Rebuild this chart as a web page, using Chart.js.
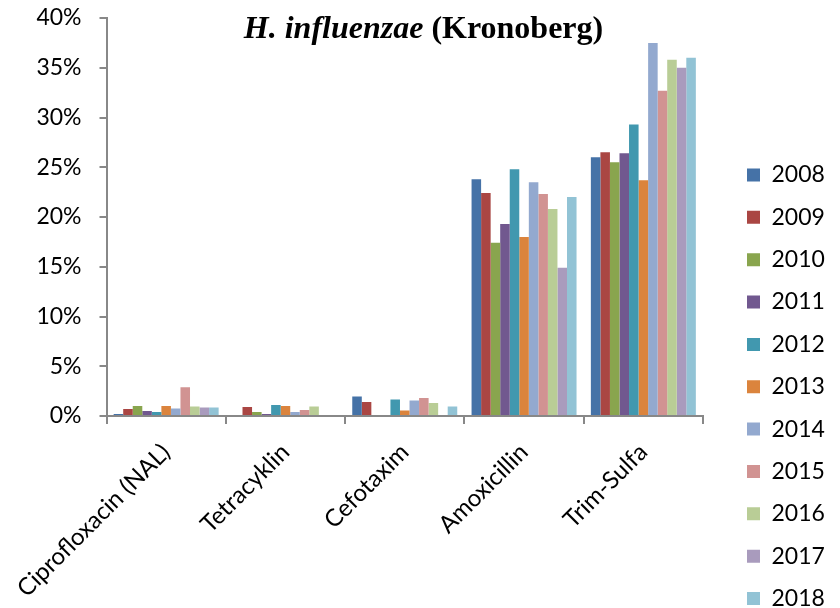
<!DOCTYPE html>
<html>
<head>
<meta charset="utf-8">
<script src="https://cdn.jsdelivr.net/npm/chart.js"></script>
<style>
  html, body { margin: 0; padding: 0; background: #fff; }
  canvas { display: block; }
</style>
</head>
<body>
<canvas id="grafica" width="840" height="608"></canvas>
<script>
// DATOS
const categorias = ['Ciprofloxacin (NAL)', 'Tetracyklin', 'Cefotaxim', 'Amoxicillin', 'Trim-Sulfa'];
const anios = ['2008', '2009', '2010', '2011', '2012', '2013', '2014', '2015', '2016', '2017', '2018'];

// % resistenta per år, i samma ordning som categorias
const v2008 = [0.2, 0, 1.95, 23.8, 26.0];
const v2009 = [0.7, 0.9, 1.4, 22.4, 26.5];
const v2010 = [1.0, 0.4, 0, 17.4, 25.5];
const v2011 = [0.5, 0.2, 0, 19.3, 26.4];
const v2012 = [0.4, 1.1, 1.65, 24.8, 29.3];
const v2013 = [1.0, 1.0, 0.55, 18.0, 23.7];
const v2014 = [0.75, 0.4, 1.55, 23.5, 37.5];
const v2015 = [2.9, 0.6, 1.8, 22.3, 32.7];
const v2016 = [0.95, 0.95, 1.3, 20.8, 35.8];
const v2017 = [0.85, 0, 0, 14.9, 35.0];
const v2018 = [0.85, 0, 0.95, 22.0, 36.0];
const valores = [v2008, v2009, v2010, v2011, v2012, v2013, v2014, v2015, v2016, v2017, v2018];

const ticksY = [0, 5, 10, 15, 20, 25, 30, 35, 40];

const colores = [
  '#4572A7', '#AA4643', '#89A54E', '#71588F', '#4198AF', '#DB843D',
  '#93A9CF', '#D19392', '#B9CD96', '#A99BBD', '#92C3D5'
];

const gris = '#888888';
const padLeyenda = 19.35;


// TITULO (parte en cursiva)
const tituloPlugin = {
  id: 'titulo',
  afterDraw(chart) {
    const ctx = chart.ctx;
    const f1 = 'italic bold 32px "Liberation Serif"';
    const f2 = 'bold 32px "Liberation Serif"';
    const t1 = 'H. influenzae';
    const t2 = ' (Kronoberg)';
    ctx.save();
    ctx.font = f1;
    const w1 = ctx.measureText(t1).width;
    ctx.font = f2;
    const w2 = ctx.measureText(t2).width;
    let x = 423.5 - (w1 + w2) / 2;
    ctx.fillStyle = '#000';
    ctx.textBaseline = 'alphabetic';
    ctx.textAlign = 'left';
    ctx.font = f1;
    ctx.fillText(t1, x, 38);
    ctx.font = f2;
    ctx.fillText(t2, x + w1, 38);
    ctx.restore();
  }
};

// POSICION LEYENDA
const leyendaPlugin = {
  id: 'posLeyenda',
  afterLayout(chart) {
    const lg = chart.legend;
    const w = lg.width;
    const h = lg.height;
    lg.left = 747 - padLeyenda;
    lg.right = lg.left + w;
    lg.top = 175 - 11.5 - padLeyenda;
    lg.bottom = lg.top + h;
  }
};


// GRAFICA
Chart.defaults.font.family = 'Lato';
Chart.defaults.font.size = 23;
Chart.defaults.color = '#000';

const ctx = document.getElementById('grafica').getContext('2d');

new Chart(ctx, {
  type: 'bar',
  data: {
    labels: categorias,
    datasets: anios.map((a, i) => ({
      label: a,
      data: valores[i],
      backgroundColor: colores[i],
      borderWidth: 0,
      categoryPercentage: 0.88,
      barPercentage: 1
    }))
  },
  options: {
    responsive: false,
    devicePixelRatio: 1,
    animation: false,
    plugins: {
      legend: {
        position: 'right',
        align: 'start',
        labels: {
          boxWidth: 13,
          boxHeight: 13,
          padding: padLeyenda,
          font: { size: 23 }
        }
      },
      tooltip: { enabled: false },
      title: { display: false }
    },
    scales: {
      x: {
        grid: {
          drawOnChartArea: false,
          drawTicks: true,
          tickLength: 8,
          color: gris,
          lineWidth: 2,
          offset: true
        },
        border: { color: gris, width: 2 },
        ticks: {
          minRotation: 45,
          maxRotation: 45,
          padding: 14,
          autoSkip: false,
          font: { size: 24 }
        },
        afterFit(axis) {
          axis.height = 192;
          axis.paddingRight = 137;
        }
      },
      y: {
        min: 0,
        max: 40,
        grid: {
          drawOnChartArea: false,
          drawTicks: true,
          tickLength: 7,
          color: gris,
          lineWidth: 2
        },
        border: { color: gris, width: 2 },
        ticks: {
          padding: 18,
          callback: v => v + '%'
        },
        afterBuildTicks(axis) {
          axis.ticks = ticksY.map(v => ({ value: v }));
        },
        afterFit(axis) {
          axis.width = 106;
          axis.paddingTop = 18;
          axis.paddingBottom = 0;
        }
      }
    }
  },
  plugins: [tituloPlugin, leyendaPlugin]
});
</script>
</body>
</html>
